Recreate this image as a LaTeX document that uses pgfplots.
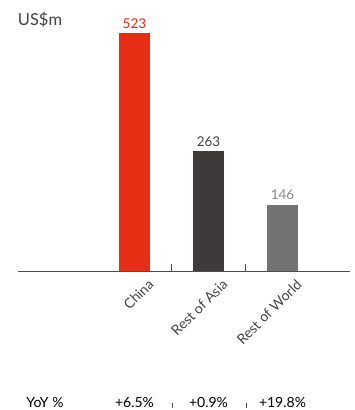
\documentclass[border=0pt]{standalone}
\usepackage{pgfplots}
\pgfplotsset{compat=1.18}
\usepackage{fontspec}
\setmainfont{Lato}
\definecolor{cred}{HTML}{E62E14}
\definecolor{cdark}{HTML}{3E3A39}
\definecolor{cgray}{HTML}{737373}
\definecolor{ctext}{HTML}{444444}
\definecolor{caxis}{HTML}{4D4D4D}
\begin{document}
\begin{tikzpicture}
\path[use as bounding box] (-18pt,-139pt) rectangle (337pt,271pt);
\begin{axis}[
  at={(0,0)}, anchor=south west,
  scale only axis, width=332pt, height=254.8pt,
  xmin=-1.574, xmax=2.912, ymin=0, ymax=560,
  axis x line=bottom, axis y line=none,
  axis line style={caxis, line width=1pt, -},
  ybar, bar width=31pt,
  xtick={0,1,2},
  xticklabels={China,Rest of Asia,Rest of World},
  major tick length=0pt,
  xticklabel style={rotate=45, anchor=north east, font=\fontsize{14}{16}\selectfont, text=ctext, inner sep=1pt, xshift=5pt, yshift=-13pt},
  extra x ticks={0.5,1.5}, extra x tick labels={},
  extra x tick style={tick align=inside, major tick length=7pt, tick style={caxis, line width=0.8pt}},
  ytick=\empty,
  clip=false,
  /pgf/number format/assume math mode=true,
  nodes near coords,
  nodes near coords style={font=\fontsize{13.5}{15}\selectfont, yshift=1pt},
]
\addplot[fill=cred, draw=none, bar shift=0pt, nodes near coords style={text=cred}] coordinates {(0,523)};
\addplot[fill=cdark, draw=none, bar shift=0pt, nodes near coords style={text=ctext}] coordinates {(1,263)};
\addplot[fill=cgray, draw=none, bar shift=0pt, nodes near coords style={text=cgray!85}] coordinates {(2,146)};
\node[font=\fontsize{16.5}{18}\selectfont, text=ctext] at (axis cs:-1.277,0) [yshift=251pt] {US\$m};
\node[font=\fontsize{14}{16}\selectfont, text=black] at (axis cs:-1.21,0) [yshift=-131pt] {YoY \%};
\node[font=\fontsize{14}{16}\selectfont, text=black] at (axis cs:0,0) [yshift=-131pt] {+6.5\%};
\node[font=\fontsize{14}{16}\selectfont, text=black] at (axis cs:1,0) [yshift=-131pt] {+0.9\%};
\node[font=\fontsize{14}{16}\selectfont, text=black] at (axis cs:2,0) [yshift=-131pt] {+19.8\%};
\draw[caxis, line width=0.6pt] ([yshift=-132pt]axis cs:0.507,0) -- ([yshift=-137pt]axis cs:0.507,0);
\draw[caxis, line width=0.6pt] ([yshift=-132pt]axis cs:1.505,0) -- ([yshift=-137pt]axis cs:1.505,0);
\end{axis}
\end{tikzpicture}
\end{document}
